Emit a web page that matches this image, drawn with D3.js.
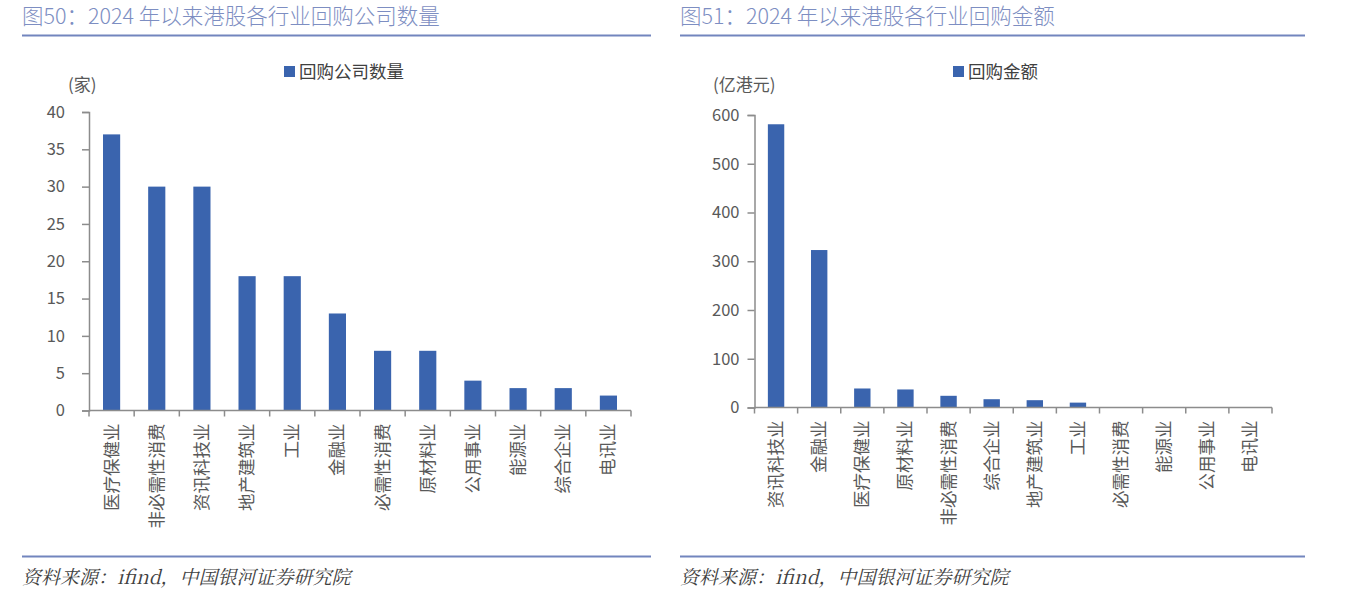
<!DOCTYPE html>
<html><head><meta charset="utf-8">
<script src="https://cdn.jsdelivr.net/npm/d3@7/dist/d3.min.js"></script>
<style>
body{margin:0;background:#fff;}
svg{display:block;font-family:"Noto Sans CJK SC","Noto Sans",sans-serif;}
</style></head>
<body><svg id="c" width="1365" height="605"></svg>
<script>
// ---- data ----
const countCategories = ["医疗保健业","非必需性消费","资讯科技业","地产建筑业","工业","金融业","必需性消费","原材料业","公用事业","能源业","综合企业","电讯业"];
const countValues = [37,30,30,18,18,13,8,8,4,3,3,2];
const countTicks = [0,5,10,15,20,25,30,35,40];

const amountCategories = ["资讯科技业","金融业","医疗保健业","原材料业","非必需性消费","综合企业","地产建筑业","工业","必需性消费","能源业","公用事业","电讯业"];
const amountValues = [581,323,39,37,24,17,15,10,1,1,0.5,0.5];
const amountTicks = [0,100,200,300,400,500,600];

const titles = ["图50：2024 年以来港股各行业回购公司数量","图51：2024 年以来港股各行业回购金额"];
const legendNames = ["回购公司数量","回购金额"];
const units = ["(家)","(亿港元)"];
const sourceText = "资料来源：ifind，中国银河证券研究院";

const svg = d3.select("#c");
const barColor = "#3a64ae", axisColor = "#8c8c8c", titleColor = "#7d8ec2", lineColor = "#7285be", textColor = "#595959";

function panel(o){
  const g = svg.append("g");
  // title
  g.append("text").attr("x", o.px).attr("y", 24).attr("font-size", 21.5).attr("font-weight", 300)
    .attr("fill", titleColor).text(o.title);
  g.append("line").attr("x1", o.px).attr("x2", o.px2).attr("y1", 35.5).attr("y2", 35.5)
    .attr("stroke", lineColor).attr("stroke-width", 2);
  g.append("line").attr("x1", o.px).attr("x2", o.px2).attr("y1", 556.5).attr("y2", 556.5)
    .attr("stroke", lineColor).attr("stroke-width", 2);
  g.append("text").attr("x", o.px).attr("y", 584).attr("font-size", 19).attr("font-style", "italic")
    .attr("font-family", "'Noto Serif CJK SC','Noto Sans CJK SC',serif")
    .attr("fill", "#404040").text(sourceText);

  const x = d3.scaleBand().domain(o.cats).range([o.x0, o.x1]).paddingInner(0.62).paddingOuter(0.31);
  const y = d3.scaleLinear().domain([0, d3.max(o.ticks)]).range([o.y0, o.y1]);

  // bars
  g.selectAll("rect.bar").data(o.vals).join("rect")
    .attr("x", (d,i)=>x(o.cats[i])).attr("width", x.bandwidth())
    .attr("y", d=>y(d)).attr("height", d=>o.y0 - y(d)).attr("fill", barColor);

  // y axis
  const ya = g.append("g").attr("transform", `translate(${o.x0},0)`)
    .call(d3.axisLeft(y).tickValues(o.ticks).tickSize(7).tickPadding(o.tickPad).tickFormat(d3.format("d")));
  ya.select(".domain").attr("stroke", axisColor).attr("stroke-width", 1.5);
  ya.selectAll(".tick line").attr("stroke", axisColor).attr("stroke-width", 1.5);
  ya.selectAll(".tick text").attr("font-size", 16.5).attr("fill", textColor).attr("font-family", "'Noto Sans CJK SC',sans-serif");

  // x axis with ticks at band boundaries
  const xa = g.append("g").attr("transform", `translate(0,${o.y0})`);
  xa.append("line").attr("x1", o.x0).attr("x2", o.x1).attr("stroke", axisColor).attr("stroke-width", 1.5);
  const step = x.step();
  const bounds = d3.range(o.cats.length + 1).map(i => o.cats[i] !== undefined ? x(o.cats[i]) - (step - x.bandwidth())/2 : o.x1);
  xa.selectAll("line.tk").data(bounds).join("line").attr("class","tk")
    .attr("x1", d=>d).attr("x2", d=>d).attr("y1", 0).attr("y2", 6)
    .attr("stroke", axisColor).attr("stroke-width", 1.5);
  xa.selectAll("text.lbl").data(o.cats).join("text").attr("class","lbl")
    .attr("transform", d=>`translate(${x(d)+x.bandwidth()/2+6},${13})rotate(-90)`)
    .attr("text-anchor","end").attr("font-size", 17.5).attr("fill", textColor).text(d=>d);

  // unit
  g.append("text").attr("x", o.unitX).attr("y", 91).attr("font-size", 17).attr("fill", textColor).text(o.unit);
  // legend
  g.append("rect").attr("x", o.legX).attr("y", 66).attr("width", 11).attr("height", 11).attr("fill", barColor);
  g.append("text").attr("x", o.legX + 15).attr("y", 78).attr("font-size", 17.5).attr("fill", "#404040").text(o.leg);
}

panel({px:22, px2:651, title:titles[0], cats:countCategories, vals:countValues, ticks:countTicks,
  x0:89, x1:631, y0:410.5, y1:112, tickPad:17, unit:units[0], unitX:68, leg:legendNames[0], legX:284});
panel({px:680, px2:1305, title:titles[1], cats:amountCategories, vals:amountValues, ticks:amountTicks,
  x0:754.5, x1:1272, y0:407.5, y1:115, tickPad:8, unit:units[1], unitX:713, leg:legendNames[1], legX:953});
</script></body></html>
